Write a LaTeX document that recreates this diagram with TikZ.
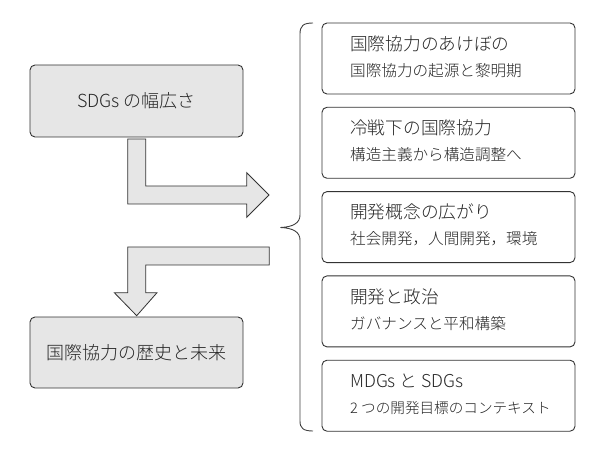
\documentclass[tikz,border=0pt]{standalone}
\usepackage{fontspec}
\setmainfont{Noto Sans CJK JP}[UprightFont=* Light]
\definecolor{boxgray}{HTML}{E6E6E6}
\definecolor{linegray}{HTML}{333333}
\tikzset{
  leftbox/.style={draw=linegray, line width=0.9bp, fill=boxgray, rounded corners=5bp,
    minimum width=213bp, minimum height=72bp, inner sep=0pt,
    font=\fontsize{18bp}{21bp}\selectfont, text=black!85},
  rightbox/.style={draw=linegray, line width=0.9bp, fill=white, rounded corners=5bp,
    minimum width=253bp, minimum height=71bp, inner sep=0pt},
  ttl/.style={anchor=west, inner sep=0pt, text height=0.88em, text depth=0.12em,
    font=\fontsize{17.7bp}{21bp}\selectfont, text=black!85},
  sub/.style={anchor=west, inner sep=0pt, text height=0.88em, text depth=0.12em,
    font=\fontsize{15.6bp}{18bp}\selectfont, text=black!85},
  subsmall/.style={sub, font=\fontsize{14.6bp}{18bp}\selectfont},
  blockarrow/.style={draw=linegray, line width=0.8bp, fill=boxgray, line join=miter},
  bracestyle/.style={draw=black!75, line width=0.9bp}
}
\begin{document}
\begin{tikzpicture}[x=1bp,y=-1bp]
\useasboundingbox (0,0) rectangle (595,451);
% left boxes
\node[leftbox] (sdgs) at (136.5,101) {SDGs の幅広さ};
\node[leftbox, minimum height=71bp] (hist) at (136.5,352.5) {国際協力の歴史と未来};
% block arrows
\draw[blockarrow] (127.7,139) -- (145.7,139) -- (145.7,186) -- (246.7,186) -- (246.7,172.7)
  -- (269,195) -- (246.7,217.3) -- (246.7,204) -- (127.7,204) -- cycle;
\draw[blockarrow] (269.3,247) -- (269.3,265) -- (145.7,265) -- (145.7,292.7) -- (157,292.7)
  -- (136.7,315.7) -- (114.3,292.7) -- (127.7,292.7) -- (127.7,247) -- cycle;
% brace
\coordinate (btop) at (313,23);
\coordinate (bmid) at (280.5,227.5);
\coordinate (bbot) at (313,431);
\draw[bracestyle] (btop) .. controls (303,23) and (300,26) .. (300,34) -- (300,215)
  .. controls (300,223) and (293,227) .. (bmid)
  .. controls (293,228) and (300,232) .. (300,240) -- (300,421)
  .. controls (300,428) and (303,431) .. (bbot);
% right boxes
\foreach \i/\t/\s/\st in {0/国際協力のあけぼの/国際協力の起源と黎明期/sub,
                      1/冷戦下の国際協力/構造主義から構造調整へ/sub,
                      2/開発概念の広がり/{社会開発，人間開発，環境}/sub,
                      3/開発と政治/ガバナンスと平和構築/sub,
                      4/{MDGs と SDGs}/{2 つの開発目標のコンテキスト}/subsmall}{
  \pgfmathsetmacro{\top}{23+84.3*\i}
  \node[rightbox] (r\i) at (448.5,\top+35.5) {};
  \node[ttl] (t\i) at (350,\top+23.5) {\t};
  \node[\st] (s\i) at (350,\top+49.5) {\s};
}
\end{tikzpicture}
\end{document}
